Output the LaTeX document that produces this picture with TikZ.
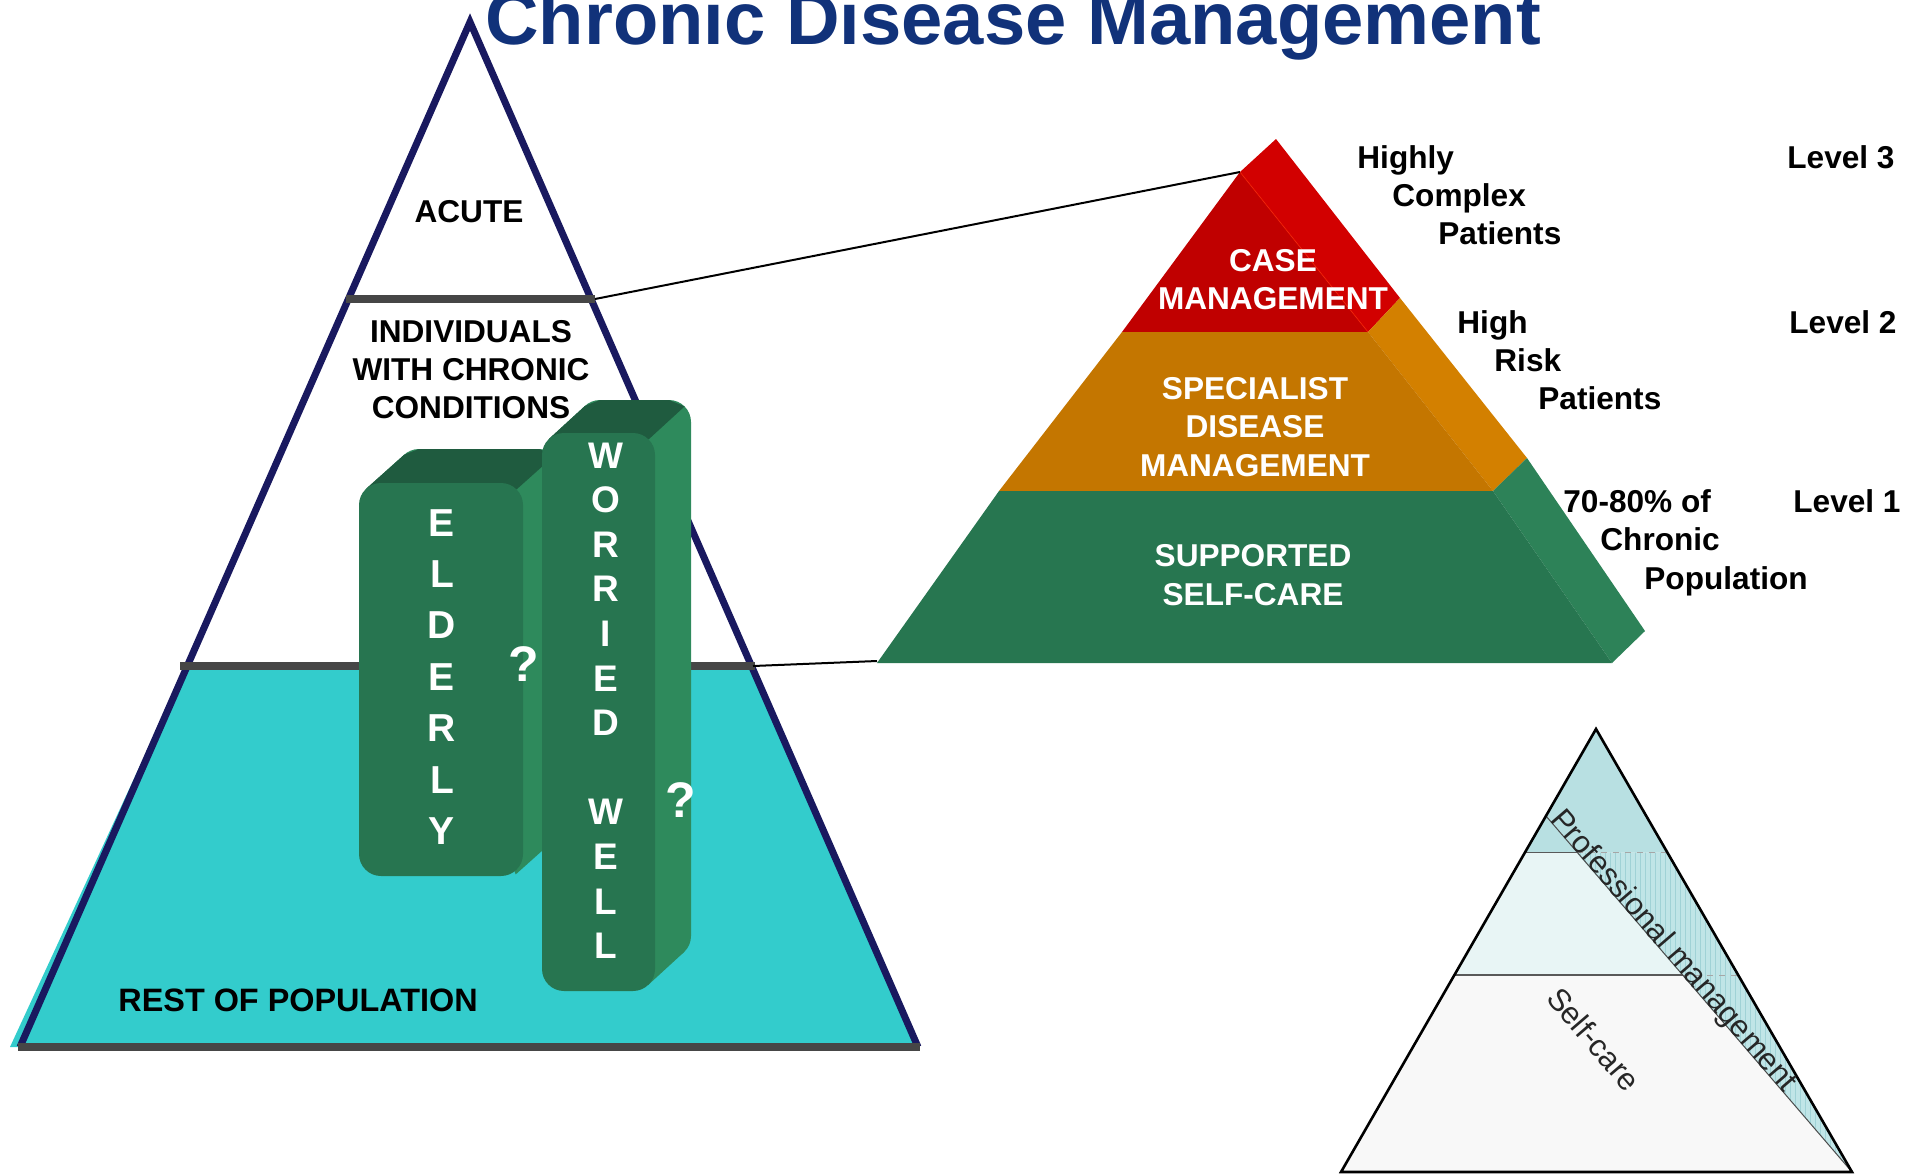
\documentclass[tikz,border=0pt]{standalone}
\usepackage{fontspec}
\setmainfont{Liberation Sans}
\definecolor{navy}{RGB}{25,25,95}
\definecolor{gline}{RGB}{70,70,70}
\definecolor{cyanfill}{RGB}{51,204,204}
\definecolor{titleblue}{RGB}{17,50,122}
\definecolor{redF}{RGB}{192,0,0}
\definecolor{redS}{RGB}{210,0,0}
\definecolor{orF}{RGB}{196,118,0}
\definecolor{orS}{RGB}{211,128,0}
\definecolor{grF}{RGB}{39,118,80}
\definecolor{grS}{RGB}{45,130,88}
\definecolor{boxF}{RGB}{39,117,80}
\definecolor{boxT}{RGB}{31,91,63}
\definecolor{boxS}{RGB}{46,138,92}
\definecolor{stTop}{RGB}{184,224,226}
\definecolor{stMid}{RGB}{232,245,245}
\definecolor{stLow}{RGB}{248,248,248}
\definecolor{stStrip}{RGB}{192,229,231}
\definecolor{stGrid}{RGB}{160,210,214}
\begin{document}
\begin{tikzpicture}[x=0.5pt,y=-0.5pt,
  lbl/.style={inner sep=0pt, font=\fontsize{15.8}{19}\selectfont\bfseries},
  wlbl/.style={lbl, text=white},
  eltr/.style={inner sep=0pt, text=white, font=\fontsize{19.5}{20}\selectfont\bfseries},
  wltr/.style={inner sep=0pt, text=white, font=\fontsize{18.5}{20}\selectfont\bfseries},
  qmark/.style={inner sep=0pt, text=white, font=\fontsize{25}{26}\selectfont\bfseries},
  small/.style={inner sep=0pt, text=black!85, font=\fontsize{15.5}{18}\selectfont},
  conn/.style={black, line width=1pt}]
\useasboundingbox (0,0) rectangle (1917,1174);

% ---------- title ----------
\node[anchor=base west, inner sep=0pt, text=titleblue,
      font=\fontsize{37.1}{40}\selectfont\bfseries] (title) at (485,44) {Chronic Disease Management};

% ---------- left triangle ----------
\fill[cyanfill] (186,666) -- (753,666) -- (918,1047) -- (10,1047) -- cycle;
\draw[navy, line width=3.5pt, line join=miter] (20,1047) -- (470,22) -- (918,1047);
\draw[gline, line width=3.8pt] (346,299) -- (595,299);
\draw[gline, line width=3.8pt] (180,666) -- (755,666);
\draw[gline, line width=3.8pt] (18,1047) -- (920,1047);
\coordinate (c1s) at (595,299);
\coordinate (c2s) at (753,666);

\node[lbl, anchor=base] (acute) at (469,222) {ACUTE};
\node[lbl, anchor=base] (ind1) at (471,342) {INDIVIDUALS};
\node[lbl, anchor=base] (ind2) at (471,380) {WITH CHRONIC};
\node[lbl, anchor=base] (ind3) at (471,418) {CONDITIONS};
\node[lbl, anchor=base west, font=\fontsize{16.2}{19}\selectfont\bfseries] (rest) at (118,1011) {REST OF POPULATION};

% ---------- ELDERLY box ----------
\fill[boxS, rounded corners=11pt] (397,449) rectangle (561,846);
\fill[boxS] (366.3,488.6) -- (404.3,454.6) -- (553.7,840.4) -- (515.7,874.4) -- cycle;
\fill[boxT] (366.3,488.6) -- (404.3,454.6) -- (419,449) -- (539,449) -- (554.6,455.4) -- (516.6,489.4) -- (381,483) -- cycle;
\fill[boxF, rounded corners=11pt] (359,483) rectangle (523,876);
\foreach \l [count=\i] in {E,L,D,E,R,L,Y}{
  \node[eltr, anchor=base] (el\i) at (442,{536+51.4*(\i-1)}) {\l};
}

% ---------- WORRIED WELL box ----------
\fill[boxS, rounded corners=11pt] (578,400) rectangle (691,958);
\fill[boxS] (549.1,438.8) -- (585.1,405.8) -- (683.9,952.2) -- (647.9,985.2) -- cycle;
\fill[boxT] (549.1,438.8) -- (585.1,405.8) -- (600,400) -- (669,400) -- (684.6,406.4) -- (648.6,439.4) -- (564,433) -- cycle;
\fill[boxF, rounded corners=11pt] (542,433) rectangle (655,991);
\foreach \l [count=\i] in {W,O,R,R,I,E,D}{
  \node[wltr, anchor=base] (wa\i) at (606,{468+44.6*(\i-1)}) {\l};
}
\foreach \l [count=\i] in {W,E,L,L}{
  \node[wltr, anchor=base] (wb\i) at (606,{824.8+44.6*(\i-1)}) {\l};
}
\node[qmark, anchor=base] (q1) at (524,681) {?};
\node[qmark, anchor=base] (q2) at (681,817) {?};

% ---------- right pyramid ----------
\coordinate (pA) at (1276,139);
\coordinate (pF) at (1240,172);
\fill[redS] (pA) -- (1400,298) -- (1368,332) -- (pF) -- cycle;
\fill[redF] (pF) -- (1368,332) -- (1122,332) -- cycle;
\fill[orS] (1368,332) -- (1400,298) -- (1527,458) -- (1493,491) -- cycle;
\fill[orF] (1122,332) -- (1368,332) -- (1493,491) -- (999,491) -- cycle;
\fill[grS] (1493,491) -- (1527,458) -- (1645,631) -- (1612,663) -- cycle;
\fill[grF] (999,491) -- (1493,491) -- (1612,663) -- (877,663) -- cycle;
\draw[red!70!orange, line width=0.5pt, opacity=0.6] (pF) -- (1368,332);
\coordinate (pL) at (877,661);

\node[wlbl, anchor=base] (case1) at (1273,271) {CASE};
\node[wlbl, anchor=base] (case2) at (1273,309) {MANAGEMENT};
\node[wlbl, anchor=base] (spec1) at (1255,399) {SPECIALIST};
\node[wlbl, anchor=base] (spec2) at (1255,437) {DISEASE};
\node[wlbl, anchor=base] (spec3) at (1255,476) {MANAGEMENT};
\node[wlbl, anchor=base] (sup1) at (1253,566) {SUPPORTED};
\node[wlbl, anchor=base] (sup2) at (1253,605) {SELF-CARE};

% connectors
\draw[conn] (c1s) -- (pF);
\draw[conn] (c2s) -- (pL);

% right-hand labels
\node[lbl, anchor=base west] (h1) at (1357,168) {Highly};
\node[lbl, anchor=base west] (h2) at (1392,206) {Complex};
\node[lbl, anchor=base west] (h3) at (1438,244) {Patients};
\node[lbl, anchor=base west] (lv3) at (1787,168) {Level 3};
\node[lbl, anchor=base west] (r1) at (1457,333) {High};
\node[lbl, anchor=base west] (r2) at (1494,371) {Risk};
\node[lbl, anchor=base west] (r3) at (1538,409) {Patients};
\node[lbl, anchor=base west] (lv2) at (1789,333) {Level 2};
\node[lbl, anchor=base west] (p1) at (1563,512) {70-80\% of};
\node[lbl, anchor=base west] (p2) at (1600,550) {Chronic};
\node[lbl, anchor=base west] (p3) at (1644,589) {Population};
\node[lbl, anchor=base west] (lv1) at (1793,512) {Level 1};

% ---------- small triangle ----------
\coordinate (sA) at (1596,729);
\coordinate (sL) at (1341,1172);
\coordinate (sR) at (1852,1172);
\coordinate (sD) at (1546,816);
\fill[stLow] (sA) -- (sR) -- (sL) -- cycle;
\fill[stMid] (1524.6,852.5) -- (1667.5,852.5) -- (1738.2,975) -- (1454,975) -- cycle;
\fill[stTop] (sA) -- (1667.5,852.5) -- (1524.6,852.5) -- cycle;
\begin{scope}
  \clip (1576.5,852.5) -- (1667.5,852.5) -- (sR) -- cycle;
  \fill[stStrip] (1560,840) rectangle (1860,1180);
  \draw[stGrid, line width=0.25pt, step=5] (1560,840) grid (1860,1180);
\end{scope}
\draw[black!65, line width=0.6pt] (1524.6,852.5) -- (1576.5,852.5);
\draw[black!35, line width=0.5pt, dashed] (1576.5,852.5) -- (1667.5,852.5);
\draw[black!65, line width=0.6pt] (1454,975) -- (1683,975);
\draw[black!35, line width=0.5pt, dashed] (1683,975) -- (1738.2,975);
\draw[black!70, line width=0.5pt] (sD) -- (sR);
\draw[black, line width=1.3pt, line join=miter] (sA) -- (sR) -- (sL) -- cycle;
\node[small, anchor=base west, rotate=-49.3] (prof) at (1549,820) {Professional management};
\node[small, anchor=center, rotate=-49.3] (self) at (1594,1039) {Self-care};
\end{tikzpicture}
\end{document}
